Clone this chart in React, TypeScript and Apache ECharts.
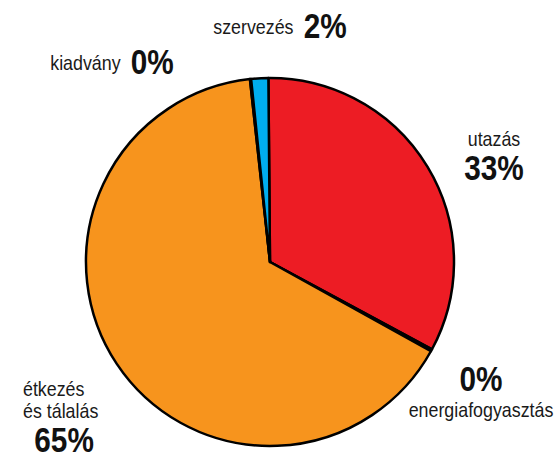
import React, { useEffect, useRef } from "react";
import * as echarts from "echarts";

// Expense categories, listed clockwise from 12 o'clock
const categories = ["utazás", "energiafogyasztás", "étkezés\nés tálalás", "kiadvány", "szervezés"];
const shares = [33.0, 0.2, 65.2, 0.1, 1.5];
const sliceColors = ["#ed1c24", "#2e3192", "#f7941d", "#231f20", "#00aeef"];

const FONT = "'Liberation Sans', Arial, sans-serif";
const SQUEEZE = 0.85; // condensed look for the captions

// caption anchor per slice: [x, y, align]
const labelSpots: [number, number, "left" | "center" | "right"][] = [
  [494, 157, "center"],
  [481, 390, "center"],
  [23, 418, "left"],
  [112, 62, "center"],
  [280, 26, "center"],
];

const rich = {
  n: { fontFamily: FONT, fontSize: 21, fill: "#1a1a1a", lineHeight: 22 },
  p: { fontFamily: FONT, fontSize: 35, fontWeight: "bold", fill: "#111111", lineHeight: 38 },
  pc: { fontFamily: FONT, fontSize: 35, fontWeight: "bold", fill: "#111111", lineHeight: 38, align: "center", padding: [0, 0, 0, 8] },
  ps: { fontFamily: FONT, fontSize: 35, fontWeight: "bold", fill: "#111111", lineHeight: 38, padding: [0, 0, 0, 12] },
};

export default function App() {
  const ref = useRef<HTMLDivElement>(null);

  useEffect(() => {
    if (!ref.current) return;
    const chart = echarts.init(ref.current, undefined, { renderer: "svg" });
    const total = shares.reduce((a, b) => a + b, 0);

    const caption = (i: number) => {
      const pct = Math.round((shares[i] / total) * 100) + "%";
      const name = categories[i];
      if (i === 0) return `{n|${name}}\n{p|${pct}}`;
      if (i === 1) return `{p|${pct}}\n{n|${name}}`;
      if (i === 2) return name.split("\n").map((s) => `{n|${s}}`).join("\n") + `\n{pc|${pct}}`;
      return `{n|${name}}{ps|${pct}}`;
    };

    chart.setOption({
      animation: false,
      backgroundColor: "#ffffff",
      series: [
        {
          type: "pie",
          center: [270, 262],
          radius: 184,
          startAngle: 90.5,
          clockwise: true,
          itemStyle: { borderColor: "#000000", borderWidth: 2.5 },
          emphasis: { disabled: true },
          label: { show: false },
          labelLine: { show: false },
          data: categories.map((name, i) => ({
            name,
            value: shares[i],
            itemStyle: { color: sliceColors[i] },
          })),
        },
      ],
      graphic: categories.map((_, i) => ({
        type: "text",
        x: labelSpots[i][0],
        y: labelSpots[i][1],
        scaleX: SQUEEZE,
        silent: true,
        style: {
          text: caption(i),
          align: labelSpots[i][2],
          verticalAlign: "middle",
          rich,
        },
      })),
    });

    return () => chart.dispose();
  }, []);

  return (
    <div
      ref={ref}
      style={{ position: "absolute", left: 0, top: 0, width: 560, height: 458 }}
    />
  );
}
